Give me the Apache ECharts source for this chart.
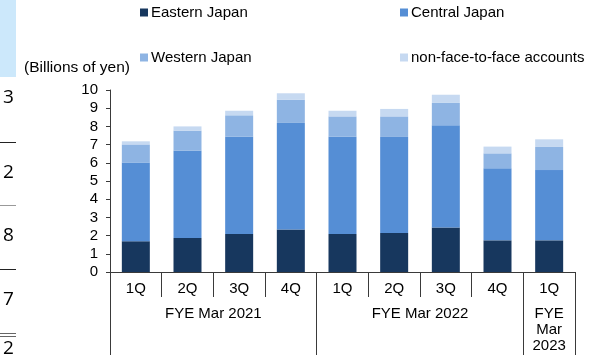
<!DOCTYPE html>
<html>
<head>
<meta charset="utf-8">
<script src="https://cdn.jsdelivr.net/npm/echarts@6/dist/echarts.min.js"></script>
<style>
  html, body { margin: 0; padding: 0; background: #fff; }
  #chart { width: 609px; height: 355px; }
</style>
</head>
<body>
<div id="chart"></div>
<script>
// Quarterly values by region (billions of yen)
const quarters = ['1Q', '2Q', '3Q', '4Q', '1Q', '2Q', '3Q', '4Q', '1Q'];
const eastern  = [1.69, 1.87, 2.09, 2.33, 2.09, 2.14, 2.44, 1.74, 1.74];
const central  = [4.32, 4.81, 5.36, 5.86, 5.36, 5.28, 5.62, 3.96, 3.86];
const western  = [1.00, 1.09, 1.16, 1.28, 1.10, 1.13, 1.23, 0.82, 1.27];
const nonFace  = [0.17, 0.23, 0.25, 0.35, 0.31, 0.41, 0.45, 0.37, 0.42];

// Fiscal-year groups: boundaries and label positions along the category span
const yearBounds = [0, 4, 8, 9];
const yearCenters = [2, 6, 8.5];
const yearLabels = ['FYE Mar 2021', 'FYE Mar 2022', 'FYE\nMar\n2023'];

const seriesNames = ['Eastern Japan', 'Central Japan', 'Western Japan', 'non-face-to-face accounts'];
const seriesColors = ['#17375e', '#558ed5', '#8eb4e3', '#c6d9f1'];
const seriesData = [eastern, central, western, nonFace];

const FONT = '"Liberation Sans", Arial, sans-serif';
const FS = 15;
const AXIS_COLOR = '#3a3a3a';

const chart = echarts.init(document.getElementById('chart'), null, { renderer: 'canvas' });

function legendAt(name, left, top) {
  return {
    data: [name], left: left, top: top, icon: 'rect',
    itemWidth: 8, itemHeight: 8, itemGap: 4, padding: 0,
    textStyle: { fontFamily: FONT, fontSize: FS, color: '#000', padding: [0, 0, 0, -2] },
    selectedMode: false
  };
}

chart.setOption({
  animation: false,
  title: {
    text: '(Billions of yen)', left: 24, top: 60, padding: 0,
    textStyle: { fontFamily: FONT, fontSize: 15.5, fontWeight: 'normal', color: '#000' }
  },
  legend: [
    legendAt(seriesNames[0], 140, 5),
    legendAt(seriesNames[1], 400, 5),
    legendAt(seriesNames[2], 140, 50),
    legendAt(seriesNames[3], 400, 50)
  ],
  grid: { left: 110, right: 34, top: 90, bottom: 83, containLabel: false },
  xAxis: [
    {
      type: 'category', data: quarters, position: 'bottom',
      axisLine: { show: true, lineStyle: { color: AXIS_COLOR, width: 1 } },
      axisTick: { show: true, interval: 0, length: 25, lineStyle: { color: AXIS_COLOR } },
      axisLabel: { interval: 0, margin: 9, fontFamily: FONT, fontSize: FS, color: '#000' }
    },
    {
      type: 'value', min: 0, max: 9, position: 'bottom',
      axisLine: { show: false },
      splitLine: { show: false },
      axisTick: { show: true, customValues: yearBounds, length: 83, lineStyle: { color: AXIS_COLOR } },
      axisLabel: {
        show: true, customValues: yearCenters, margin: 34,
        fontFamily: FONT, fontSize: FS, color: '#000', lineHeight: 16, align: 'center',
        formatter: function (v) { return yearLabels[yearCenters.indexOf(v)]; }
      }
    }
  ],
  yAxis: {
    type: 'value', min: 0, max: 10, interval: 1,
    axisLine: { show: true, lineStyle: { color: AXIS_COLOR } },
    axisTick: { show: true, length: 4, lineStyle: { color: AXIS_COLOR } },
    splitLine: { show: false },
    axisLabel: { margin: 12, fontFamily: FONT, fontSize: FS, color: '#000' }
  },
  series: seriesNames.map(function (name, i) {
    return {
      name: name, type: 'bar', stack: 'total', xAxisIndex: 0,
      data: seriesData[i], barWidth: 28,
      itemStyle: { color: seriesColors[i] }
    };
  }),
  graphic: [
    // Edge of the neighbouring table at the left
    { type: 'rect', left: 0, top: 0, shape: { width: 16, height: 77 }, style: { fill: '#cce8fb' } },
    { type: 'text', left: 3, top: 88, style: { text: '3', fontFamily: '"Open Sans", sans-serif', fontSize: 19, fill: '#000' } },
    { type: 'line', shape: { x1: 0, y1: 142.5, x2: 16, y2: 142.5 }, style: { stroke: '#222', lineWidth: 1 } },
    { type: 'text', left: 3, top: 163, style: { text: '2', fontFamily: '"Open Sans", sans-serif', fontSize: 19, fill: '#000' } },
    { type: 'line', shape: { x1: 0, y1: 205.5, x2: 16, y2: 205.5 }, style: { stroke: '#999', lineWidth: 1 } },
    { type: 'text', left: 3, top: 226, style: { text: '8', fontFamily: '"Open Sans", sans-serif', fontSize: 19, fill: '#000' } },
    { type: 'line', shape: { x1: 0, y1: 269.5, x2: 16, y2: 269.5 }, style: { stroke: '#222', lineWidth: 1 } },
    { type: 'text', left: 3, top: 290, style: { text: '7', fontFamily: '"Open Sans", sans-serif', fontSize: 19, fill: '#000' } },
    { type: 'line', shape: { x1: 0, y1: 333.5, x2: 16, y2: 333.5 }, style: { stroke: '#666', lineWidth: 1 } },
    { type: 'line', shape: { x1: 0, y1: 336.5, x2: 16, y2: 336.5 }, style: { stroke: '#666', lineWidth: 1 } },
    { type: 'text', left: 3, top: 339, style: { text: '2', fontFamily: '"Open Sans", sans-serif', fontSize: 19, fill: '#000' } }
  ]
});
</script>
</body>
</html>
